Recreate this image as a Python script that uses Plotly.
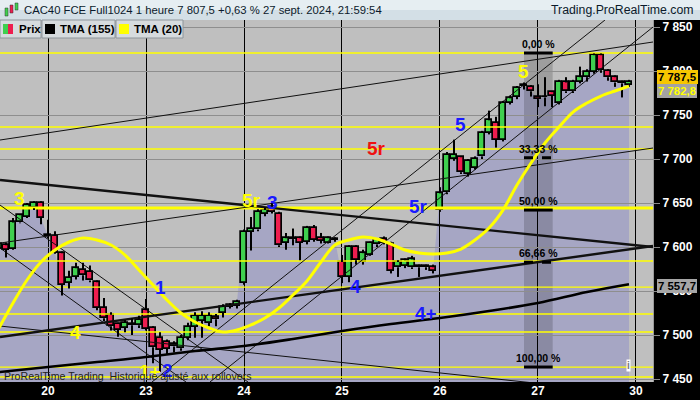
import plotly.graph_objects as go

# ---------------- data ----------------
day_start_idx = [0, 14, 28, 42, 56, 70, 84]
day_labels = ["20", "23", "24", "25", "26", "27", "30"]

bar_idx = list(range(-7, 84))
opens = [7598, 7602, 7598, 7628, 7634, 7644, 7650,
         7614, 7613, 7593, 7559, 7566, 7574, 7572, 7560, 7531, 7523, 7513, 7508, 7512, 7511,
         7528, 7508, 7497, 7492, 7487, 7485, 7497, 7509, 7516, 7514, 7520, 7525, 7532, 7533,
         7559, 7617, 7620, 7638, 7645, 7638, 7605, 7610, 7610, 7606, 7622, 7610, 7605, 7609,
         7583, 7566, 7600, 7583, 7591, 7603, 7609, 7603, 7577, 7579, 7577, 7578, 7578, 7577,
         7642, 7662, 7700, 7702, 7683, 7690, 7703, 7730, 7741, 7722, 7764, 7771, 7784, 7782,
         7771, 7770, 7776, 7764, 7787, 7777, 7788, 7793, 7799, 7818, 7800, 7793, 7788, 7784]
highs = [7606, 7605, 7633, 7637, 7650, 7652, 7652,
         7631, 7618, 7595, 7573, 7582, 7582, 7579, 7562, 7542, 7526, 7514, 7517, 7519, 7522,
         7541, 7510, 7503, 7495, 7493, 7500, 7514, 7526, 7527, 7526, 7524, 7535, 7536, 7540,
         7620, 7634, 7643, 7645, 7650, 7640, 7616, 7621, 7612, 7624, 7625, 7616, 7612, 7611,
         7591, 7602, 7602, 7597, 7606, 7610, 7612, 7606, 7585, 7587, 7590, 7580, 7580, 7580,
         7668, 7708, 7722, 7703, 7700, 7703, 7732, 7755, 7748, 7766, 7772, 7783, 7787, 7784,
         7785, 7793, 7777, 7790, 7793, 7790, 7805, 7802, 7820, 7820, 7802, 7795, 7789, 7790]
lows = [7592, 7588, 7597, 7627, 7633, 7642, 7626,
        7610, 7592, 7545, 7553, 7563, 7562, 7560, 7528, 7516, 7505, 7498, 7503, 7500, 7508,
        7505, 7468, 7458, 7478, 7480, 7482, 7494, 7497, 7497, 7510, 7510, 7520, 7530, 7530,
        7557, 7596, 7618, 7635, 7638, 7600, 7597, 7602, 7585, 7603, 7606, 7604, 7604, 7606,
        7559, 7560, 7580, 7580, 7590, 7600, 7603, 7570, 7566, 7576, 7575, 7566, 7574, 7570,
        7640, 7660, 7698, 7683, 7680, 7688, 7700, 7728, 7713, 7720, 7762, 7768, 7779, 7771,
        7759, 7760, 7759, 7762, 7775, 7775, 7786, 7788, 7797, 7798, 7789, 7782, 7770, 7782]
closes = [7603, 7597, 7628, 7636, 7648, 7650, 7633,
          7612, 7593, 7557, 7565, 7576, 7568, 7562, 7531, 7519, 7510, 7506, 7514, 7511, 7517,
          7507, 7486, 7483, 7484, 7490, 7497, 7509, 7522, 7522, 7522, 7518, 7532, 7534, 7538,
          7617, 7621, 7640, 7642, 7640, 7602, 7610, 7609, 7605, 7622, 7608, 7607, 7610, 7608,
          7566, 7600, 7585, 7593, 7605, 7608, 7605, 7573, 7583, 7585, 7586, 7577, 7577, 7573,
          7661, 7705, 7705, 7685, 7698, 7700, 7730, 7744, 7722, 7764, 7769, 7781, 7783, 7777,
          7768, 7771, 7772, 7788, 7777, 7788, 7793, 7799, 7818, 7801, 7793, 7787, 7786, 7787.5]

tma20_idx = list(range(-7, 84, 2))
tma20 = [7508.0, 7536.4, 7562.5, 7583.0, 7596.6, 7605.7, 7610.2, 7608.0, 7602.3, 7590.9,
         7573.9, 7556.8, 7539.8, 7525.0, 7514.8, 7508.0, 7503.4, 7505.7, 7511.4, 7519.3,
         7530.7, 7545.5, 7561.4, 7583.0, 7602.3, 7608.0, 7611.4, 7609.1, 7603.4, 7596.6,
         7593.2, 7592.0, 7593.2, 7597.7, 7608.0, 7621.6, 7642.0, 7670.5, 7695.5, 7718.2,
         7736.4, 7753.4, 7763.6, 7771.6, 7777.3, 7782.8]

tma155_idx = [-7, 0, 7, 14, 21, 28, 35, 42, 49, 56, 63, 70, 77, 83]
tma155 = [7457.9, 7463.6, 7469.3, 7475.0, 7481.8, 7487.5, 7495.5, 7504.5, 7512.5,
          7519.3, 7527.3, 7536.4, 7548.9, 7557.7]

level_prices = [7820.5, 7736.4, 7711.4, 7644.3, 7584.1, 7554.5, 7523.9, 7503.4, 7463.6, 7452.3]
thick_level = 7644.3

# trend lines: (index0, price0, index1, price1)
trend_thick = [(-6.857, 7676.1, 86.43, 7600.0),
               (-6.857, 7497.7, 86.43, 7601.1)]
trend_thin = [(-6.857, 7604.5, 86.43, 7712.5),
              (-6.857, 7721.6, 86.43, 7833.0),
              (14.857, 7446.6, 79.57, 7858.0),
              (23.14, 7446.6, 86.43, 7850.0),
              (-6.857, 7647.7, 28.57, 7446.6),
              (-6.857, 7598.9, 19.71, 7446.6),
              (-6.857, 7510.2, 78.86, 7437.5)]

fib_labels = ["0,00 %", "33,33 %", "50,00 %", "66,66 %", "100,00 %"]
fib_prices = [7820.5, 7701.5, 7642.0, 7582.6, 7463.6]
fib_x0, fib_x1 = 68.0, 72.1

wave_labels = [("3", -4.14, 7655.7, "y"), ("4", 3.86, 7502.3, "y"), ("1", 16.0, 7554.5, "b"),
               ("1+", 14.5, 7458.0, "y"), ("2", 17.0, 7460.2, "b"), ("5r", 29.1, 7653.4, "y"),
               ("3", 32.0, 7651.1, "b"), ("4", 43.86, 7555.7, "b"), ("5r", 47.0, 7712.5, "r"),
               ("5r", 52.86, 7645.5, "b"), ("5", 58.86, 7739.8, "b"), ("5", 68.0, 7800.0, "y"),
               ("4+", 54.0, 7525.0, "b")]

y_ticks = [7450, 7500, 7550, 7600, 7650, 7700, 7750, 7800, 7850]

# ---------------- figure ----------------
W, H = 700, 400
ML, MR, MT, MB = 0, 47, 20, 18
PW, PH = W - ML - MR, H - MT - MB
XR = [-6.857, 86.43]
YR = [7446.6, 7858.0]


def px(x):
    return (x - ML) / PW


def py(y):
    return (H - MB - y) / PH


GREEN = "#3fcf4f"
RED = "#ee1d4f"
YEL = "#ffff00"
BLUE = "#1a1aff"

fig = go.Figure()

# candle bodies
base = [min(o, c) for o, c in zip(opens, closes)]
hgt = [max(abs(c - o), 0.8) for o, c in zip(opens, closes)]
cols = [GREEN if c >= o else RED for o, c in zip(opens, closes)]
fig.add_trace(go.Bar(x=bar_idx, y=hgt, base=base, width=0.78,
                     marker=dict(color=cols, line=dict(color="black", width=1.7)),
                     hoverinfo="skip"))

# trend lines & levels
for lv in level_prices:
    fig.add_trace(go.Scatter(x=[XR[0] - 1, XR[1] + 1], y=[lv, lv], mode="lines",
                             line=dict(color=YEL, width=3 if lv == thick_level else 1.3),
                             hoverinfo="skip"))
for (a0, p0, a1, p1) in trend_thin:
    fig.add_trace(go.Scatter(x=[a0, a1], y=[p0, p1], mode="lines",
                             line=dict(color="#111111", width=1), hoverinfo="skip"))
for (a0, p0, a1, p1) in trend_thick:
    fig.add_trace(go.Scatter(x=[a0, a1], y=[p0, p1], mode="lines",
                             line=dict(color="#111111", width=2.4), hoverinfo="skip"))

# wicks (drawn outside the body)
wx, wy = [], []
for i, o, h, l, c in zip(bar_idx, opens, highs, lows, closes):
    top, bot = max(o, c), min(o, c)
    if h > top:
        wx += [i, i, None]
        wy += [h, top, None]
    if l < bot:
        wx += [i, i, None]
        wy += [bot, l, None]
fig.add_trace(go.Scatter(x=wx, y=wy, mode="lines", line=dict(color="black", width=2),
                         hoverinfo="skip"))

# TMA lines
fig.add_trace(go.Scatter(x=tma155_idx, y=tma155, mode="lines", line=dict(color="black", width=2.6, shape="spline"),
                         hoverinfo="skip"))
fig.add_trace(go.Scatter(x=tma20_idx, y=tma20, mode="lines", line=dict(color=YEL, width=3, shape="spline"),
                         hoverinfo="skip"))

# fib level bars
for k, fp in enumerate(fib_prices):
    fig.add_trace(go.Scatter(x=[fib_x0, fib_x1], y=[fp, fp], mode="lines",
                             line=dict(color="black", width=3, dash="dash" if k in (1, 3) else "solid"),
                             hoverinfo="skip"))

shapes = []
# mountain fill under closes
path = "M %.3f,%.2f " % (bar_idx[0], YR[0])
for i, c in zip(bar_idx, closes):
    path += "L %.3f,%.2f " % (i, c)
path += "L %.3f,%.2f Z" % (bar_idx[-1], YR[0])
shapes.append(dict(type="path", path=path, xref="x", yref="y", layer="below",
                   fillcolor="#a6a6c4", line=dict(width=0)))
# fib band
shapes.append(dict(type="rect", xref="x", yref="y", x0=fib_x0, x1=fib_x1, y0=fib_prices[-1], y1=fib_prices[0],
                   layer="below", fillcolor="rgba(0,0,0,0.17)", line=dict(width=0)))

# title bar
shapes.append(dict(type="rect", xref="paper", yref="paper", x0=px(0), x1=px(W), y0=py(10), y1=py(0),
                   fillcolor="#e6eef2", line=dict(width=0), layer="above"))
shapes.append(dict(type="rect", xref="paper", yref="paper", x0=px(0), x1=px(W), y0=py(20), y1=py(10),
                   fillcolor="#d3dfe6", line=dict(width=0), layer="above"))
# icon in title
for (x0, x1, y0, y1, c) in [(5, 8, 8, 16, GREEN), (10, 13, 5, 13, RED), (15, 18, 3, 10, GREEN)]:
    shapes.append(dict(type="rect", xref="paper", yref="paper", x0=px(x0), x1=px(x1), y0=py(y1), y1=py(y0),
                       fillcolor=c, line=dict(width=0.5, color="#333"), layer="above"))
# legend boxes
for (x0, x1) in [(0, 41), (42, 115), (116, 183)]:
    shapes.append(dict(type="rect", xref="paper", yref="paper", x0=px(x0), x1=px(x1), y0=py(38), y1=py(20),
                       fillcolor="#d6dbde", line=dict(width=1, color="#8e959b"), layer="above"))
for (x0, x1, c) in [(3, 8, GREEN), (8, 13, RED), (45, 55, "black"), (119, 129, YEL)]:
    shapes.append(dict(type="rect", xref="paper", yref="paper", x0=px(x0), x1=px(x1), y0=py(34), y1=py(24),
                       fillcolor=c, line=dict(width=0), layer="above"))

anns = []
anns.append(dict(x=px(22), y=py(10), xref="paper", yref="paper", xanchor="left", yanchor="middle",
                 text="CAC40 FCE Full1024 1 heure 7 807,5 +0,63 % 27 sept. 2024, 21:59:54",
                 showarrow=False, font=dict(family="Liberation Sans", size=11.3, color="#0b1a2b")))
anns.append(dict(x=px(696), y=py(10), xref="paper", yref="paper", xanchor="right", yanchor="middle",
                 text="Trading.ProRealTime.com", showarrow=False,
                 font=dict(family="Liberation Sans", size=12.3, color="#0b1a2b")))
for (x0, t) in [(17, "Prix"), (58, "TMA (155)"), (132, "TMA (20)")]:
    anns.append(dict(x=px(x0), y=py(29), xref="paper", yref="paper", xanchor="left", yanchor="middle",
                     text="<b>%s</b>" % t, showarrow=False,
                     font=dict(family="Liberation Sans", size=11.5, color="black")))

cmap = {"y": YEL, "b": BLUE, "r": "#ee1111"}
for (t, xi, yp, c) in wave_labels:
    anns.append(dict(x=xi, y=yp, xref="x", yref="y", text="<b>%s</b>" % t, showarrow=False,
                     font=dict(family="Liberation Sans", size=19, color=cmap[c])))
for t, fp in zip(fib_labels, fib_prices):
    anns.append(dict(x=(fib_x0 + fib_x1) / 2, y=fp, xref="x", yref="y", yanchor="bottom", yshift=1,
                     text="<b>%s</b>" % t, showarrow=False,
                     font=dict(family="Liberation Sans", size=10.5, color="black")))

anns.append(dict(x=px(2), y=py(376), xref="paper", yref="paper", xanchor="left", yanchor="middle",
                 text="ProRealTime Trading  Historique ajusté aux rollovers", showarrow=False,
                 font=dict(family="Liberation Sans", size=10.6, color="#222222")))
anns.append(dict(x=px(631), y=py(372), xref="paper", yref="paper", text="<b>i</b>", showarrow=False,
                 bgcolor="white", borderpad=0, font=dict(family="Liberation Sans", size=10, color="#777")))

# price tags on the right axis
tags = [(77.5, "7 787,5", "#f7c600", "black"), (91, "7 782,8", "#a3a3a3", YEL), (285.5, "7 557,7", "#a6a6a6", "black")]
for (yc, t, bg, fc) in tags:
    anns.append(dict(x=px(657), y=py(yc), xref="paper", yref="paper", xanchor="left", yanchor="middle",
                     text="<b>%s</b>" % t, showarrow=False, bgcolor=bg, borderpad=1,
                     bordercolor="#777", borderwidth=0,
                     font=dict(family="Liberation Sans", size=11.4, color=fc)))

fig.update_layout(
    width=W, height=H, margin=dict(l=ML, r=MR, t=MT, b=MB, pad=0),
    paper_bgcolor="black", plot_bgcolor="#bfbfbf",
    showlegend=False, barmode="overlay", bargap=0,
    shapes=shapes, annotations=anns,
    xaxis=dict(range=XR, tickvals=day_start_idx, ticktext=day_labels, showgrid=True, gridcolor="black",
               gridwidth=1.2, zeroline=False, ticks="", showline=False,
               tickfont=dict(family="Liberation Sans", size=12, color="white", weight="bold")),
    yaxis=dict(range=YR, side="right", tickvals=y_ticks, ticktext=[f"{v:,}".replace(",", " ") for v in y_ticks],
               showgrid=True, gridcolor="#8e8e8e", gridwidth=1, zeroline=False, ticks="outside",
               ticklen=6, tickcolor="#8a8a8a", showline=True, linecolor="#9a9a9a",
               tickfont=dict(family="Liberation Sans", size=12, color="white", weight="bold")),
)

fig.write_html("out.html", config={"displayModeBar": False},
               post_script="document.body.style.margin='0';document.body.style.padding='0';"
                           "document.body.style.overflow='hidden';")
